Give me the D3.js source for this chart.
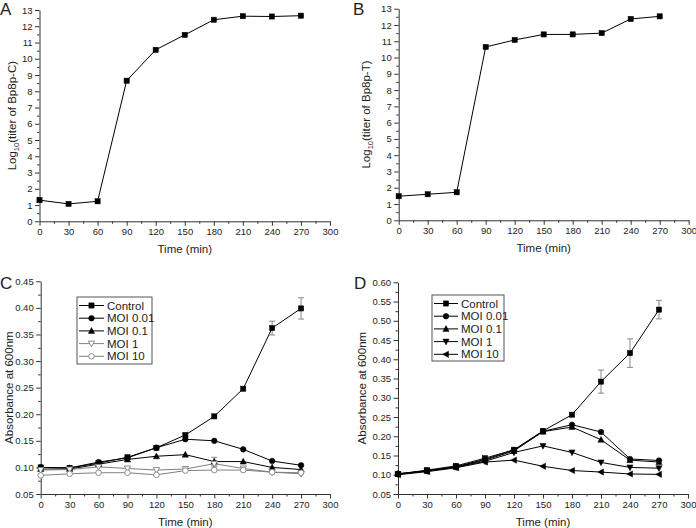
<!DOCTYPE html>
<html><head><meta charset="utf-8">
<script src="https://cdn.jsdelivr.net/npm/d3@7"></script>
<style>
body{margin:0;background:#fff}
svg{display:block}
text{font-family:"Liberation Sans",Arial,sans-serif;fill:#222}
</style>
</head><body>
<svg id="chart" width="696" height="528"></svg>
<script>
// ---------- DATA ----------
const times = [0, 30, 60, 90, 120, 150, 180, 210, 240, 270];
const xTicks = [0, 30, 60, 90, 120, 150, 180, 210, 240, 270, 300];

// Panel A / B : Log10 titer
const titerBp8pC = [1.30, 1.07, 1.23, 8.65, 10.55, 11.47, 12.40, 12.62, 12.60, 12.65];
const titerBp8pT = [1.48, 1.60, 1.72, 10.65, 11.08, 11.42, 11.42, 11.50, 12.37, 12.53];
const titerTicks = [0,1,2,3,4,5,6,7,8,9,10,11,12,13];

// Panel C : absorbance
const seriesNames = ["Control", "MOI 0.01", "MOI 0.1", "MOI 1", "MOI 10"];
const cControl = [0.100, 0.099, 0.108, 0.119, 0.137, 0.161, 0.196, 0.248, 0.362, 0.399];
const cMoi001  = [0.100, 0.099, 0.110, 0.118, 0.137, 0.153, 0.150, 0.134, 0.112, 0.104];
const cMoi01   = [0.097, 0.097, 0.106, 0.115, 0.121, 0.124, 0.111, 0.111, 0.100, 0.096];
const cMoi1    = [0.095, 0.096, 0.101, 0.098, 0.095, 0.097, 0.107, 0.098, 0.091, 0.088];
const cMoi10   = [0.085, 0.088, 0.090, 0.090, 0.086, 0.094, 0.095, 0.095, 0.091, 0.090];
const cControlErr = [0, 0, 0, 0, 0, 0.003, 0, 0, 0.013, 0.020];
const cMoi01Err   = [0, 0, 0, 0, 0, 0, 0.008, 0, 0, 0];
const cMoi1Err    = [0, 0, 0, 0, 0, 0, 0.006, 0, 0, 0];
const absCTicks = [0.05, 0.10, 0.15, 0.20, 0.25, 0.30, 0.35, 0.40, 0.45];

// Panel D : absorbance
const dControl = [0.102, 0.112, 0.123, 0.143, 0.165, 0.214, 0.256, 0.342, 0.416, 0.529];
const dMoi001  = [0.103, 0.110, 0.121, 0.140, 0.164, 0.213, 0.230, 0.211, 0.141, 0.137];
const dMoi01   = [0.102, 0.110, 0.120, 0.138, 0.162, 0.212, 0.224, 0.191, 0.138, 0.133];
const dMoi1    = [0.101, 0.110, 0.120, 0.135, 0.158, 0.175, 0.158, 0.132, 0.119, 0.117];
const dMoi10   = [0.100, 0.108, 0.118, 0.133, 0.138, 0.122, 0.111, 0.107, 0.102, 0.101];
const dControlErr = [0, 0, 0, 0, 0, 0, 0, 0.030, 0.037, 0.024];
const absDTicks = [0.05, 0.10, 0.15, 0.20, 0.25, 0.30, 0.35, 0.40, 0.45, 0.50, 0.55, 0.60];

// ---------- DRAWING ----------
const svg = d3.select("#chart");

function markerPath(type, s) {
  const h = s / 2;
  if (type === "triUp")   return `M0,${-h-0.6}L${h+0.4},${h-0.2}L${-h-0.4},${h-0.2}Z`;
  if (type === "triDown") return `M0,${h+0.6}L${h+0.4},${-h+0.2}L${-h-0.4},${-h+0.2}Z`;
  if (type === "triLeft") return `M${-h-0.6},0L${h-0.2},${-h-0.4}L${h-0.2},${h+0.4}Z`;
  return "";
}

function drawMarker(g, type, x, y, color, open) {
  const fill = open ? "#fff" : color;
  if (type === "square") {
    g.append("rect").attr("x", x - 2.6).attr("y", y - 2.6).attr("width", 5.2).attr("height", 5.2)
      .attr("fill", fill).attr("stroke", color).attr("stroke-width", open ? 0.9 : 0.5);
  } else if (type === "circle") {
    g.append("circle").attr("cx", x).attr("cy", y).attr("r", 2.8)
      .attr("fill", fill).attr("stroke", color).attr("stroke-width", open ? 0.9 : 0.5);
  } else {
    g.append("path").attr("d", markerPath(type, 5.4)).attr("transform", `translate(${x},${y})`)
      .attr("fill", fill).attr("stroke", color).attr("stroke-width", open ? 0.9 : 0.5);
  }
}

function panel(cfg) {
  const x = d3.scaleLinear().domain([0, 300]).range(cfg.xr);
  const y = d3.scaleLinear().domain(cfg.yd).range(cfg.yr);
  const g = svg.append("g");

  // minor ticks
  const xMinor = d3.range(15, 300, 30);
  g.append("g").attr("transform", `translate(0,${cfg.yr[0]})`)
    .call(d3.axisBottom(x).tickValues(xMinor).tickSize(2.5).tickSizeOuter(0).tickFormat(""))
    .call(a => a.select(".domain").remove());
  const yMinor = [];
  for (let i = 0; i < cfg.yTicks.length - 1; i++) yMinor.push((cfg.yTicks[i] + cfg.yTicks[i+1]) / 2);
  g.append("g").attr("transform", `translate(${cfg.xr[0]},0)`)
    .call(d3.axisLeft(y).tickValues(yMinor).tickSize(2.5).tickSizeOuter(0).tickFormat(""))
    .call(a => a.select(".domain").remove());

  // major axes
  const xa = g.append("g").attr("transform", `translate(0,${cfg.yr[0]})`)
    .call(d3.axisBottom(x).tickValues(xTicks).tickSize(4.5).tickSizeOuter(0).tickPadding(2.5));
  const ya = g.append("g").attr("transform", `translate(${cfg.xr[0]},0)`)
    .call(d3.axisLeft(y).tickValues(cfg.yTicks).tickSize(4.5).tickSizeOuter(0).tickPadding(2.5)
      .tickFormat(cfg.yFmt));
  [xa, ya].forEach(a => {
    a.selectAll("text").attr("font-size", 9.5).attr("fill", "#222")
      .attr("font-family", '"Liberation Sans",Arial,sans-serif');
    a.selectAll("line").attr("stroke", "#333");
    a.select(".domain").attr("stroke", "#333");
  });
  g.selectAll("line").attr("stroke", "#333");

  // titles
  g.append("text").attr("x", (cfg.xr[0] + cfg.xr[1]) / 2).attr("y", cfg.yr[0] + 32)
    .attr("text-anchor", "middle").attr("font-size", 11.5).text("Time (min)");
  const yt = g.append("text").attr("transform", `translate(${cfg.ytX},${(cfg.yr[0] + cfg.yr[1]) / 2}) rotate(-90)`)
    .attr("text-anchor", "middle").attr("font-size", 11.5);
  cfg.yTitle(yt);

  // panel letter
  g.append("text").attr("x", cfg.letterX).attr("y", cfg.letterY).attr("font-size", 17)
    .attr("fill", "#000").text(cfg.letter);

  // series
  const line = d3.line().x((d, i) => x(times[i])).y(d => y(d));
  cfg.series.forEach(s => {
    g.append("path").datum(s.values).attr("d", line).attr("fill", "none")
      .attr("stroke", s.color).attr("stroke-width", 1);
  });
  // error bars
  cfg.series.forEach(s => {
    if (!s.err) return;
    s.err.forEach((e, i) => {
      if (!e) return;
      const cx = x(times[i]), y1 = y(s.values[i] + e), y0 = y(s.values[i] - e);
      g.append("line").attr("x1", cx).attr("x2", cx).attr("y1", y1).attr("y2", y0)
        .attr("stroke", "#888").attr("stroke-width", 1);
      [y1, y0].forEach(yy => g.append("line").attr("x1", cx - 3).attr("x2", cx + 3)
        .attr("y1", yy).attr("y2", yy).attr("stroke", "#888").attr("stroke-width", 1));
    });
  });
  cfg.series.forEach(s => {
    s.values.forEach((v, i) => drawMarker(g, s.marker, x(times[i]), y(v), s.color, s.open));
  });

  // legend
  if (cfg.legend) {
    const L = cfg.legend;
    g.append("rect").attr("x", L.x).attr("y", L.y).attr("width", L.w).attr("height", L.h)
      .attr("fill", "#fff").attr("stroke", "#555").attr("stroke-width", 1);
    cfg.series.forEach((s, i) => {
      const yy = L.y + L.first + i * L.step;
      g.append("line").attr("x1", L.x + 2).attr("x2", L.x + 2 + L.lw).attr("y1", yy).attr("y2", yy)
        .attr("stroke", s.color).attr("stroke-width", 1);
      drawMarker(g, s.marker, L.x + 2 + L.lw / 2, yy, s.color, s.open);
      g.append("text").attr("x", L.x + L.lw + 5).attr("y", yy + 4).attr("font-size", 11.5)
        .text(seriesNames[i]);
    });
  }
}

function logTitle(suffix) {
  return t => {
    t.append("tspan").text("Log");
    t.append("tspan").attr("font-size", 7.5).attr("dy", 3).text("10");
    t.append("tspan").attr("dy", -3).text(suffix);
  };
}

const intFmt = d3.format("d");
const absFmt = d3.format(".2f");

panel({
  xr: [39.5, 330], yr: [221.3, 10], yd: [0, 13], yTicks: titerTicks, yFmt: intFmt,
  ytX: 16, letter: "A", letterX: 0, letterY: 15,
  yTitle: logTitle("(titer of Bp8p-C)"),
  series: [{ values: titerBp8pC, marker: "square", color: "#000" }]
});
panel({
  xr: [398.7, 688.7], yr: [220.3, 8.7], yd: [0, 13], yTicks: titerTicks, yFmt: intFmt,
  ytX: 370, letter: "B", letterX: 353, letterY: 15,
  yTitle: logTitle("(titer of Bp8p-T)"),
  series: [{ values: titerBp8pT, marker: "square", color: "#000" }]
});
panel({
  xr: [40.7, 330], yr: [494, 281.3], yd: [0.05, 0.45], yTicks: absCTicks, yFmt: absFmt,
  ytX: 12.5, letter: "C", letterX: 0, letterY: 289,
  yTitle: t => t.text("Absorbance at 600nm"),
  series: [
    { values: cControl, err: cControlErr, marker: "square", color: "#000" },
    { values: cMoi001, marker: "circle", color: "#000" },
    { values: cMoi01, err: cMoi01Err, marker: "triUp", color: "#000" },
    { values: cMoi1, err: cMoi1Err, marker: "triDown", color: "#808080", open: true },
    { values: cMoi10, marker: "circle", color: "#808080", open: true }
  ],
  legend: { x: 77, y: 297, w: 75, h: 67, first: 8.5, step: 12.7, lw: 25 }
});
panel({
  xr: [398, 688], yr: [494, 282.3], yd: [0.05, 0.60], yTicks: absDTicks, yFmt: absFmt,
  ytX: 366, letter: "D", letterX: 354, letterY: 289,
  yTitle: t => t.text("Absorbance at 600nm"),
  series: [
    { values: dControl, err: dControlErr, marker: "square", color: "#000" },
    { values: dMoi001, marker: "circle", color: "#000" },
    { values: dMoi01, marker: "triUp", color: "#000" },
    { values: dMoi1, marker: "triDown", color: "#000" },
    { values: dMoi10, marker: "triLeft", color: "#000" }
  ],
  legend: { x: 432, y: 295, w: 72, h: 66, first: 8.5, step: 12.7, lw: 24 }
});
</script>
</body></html>
